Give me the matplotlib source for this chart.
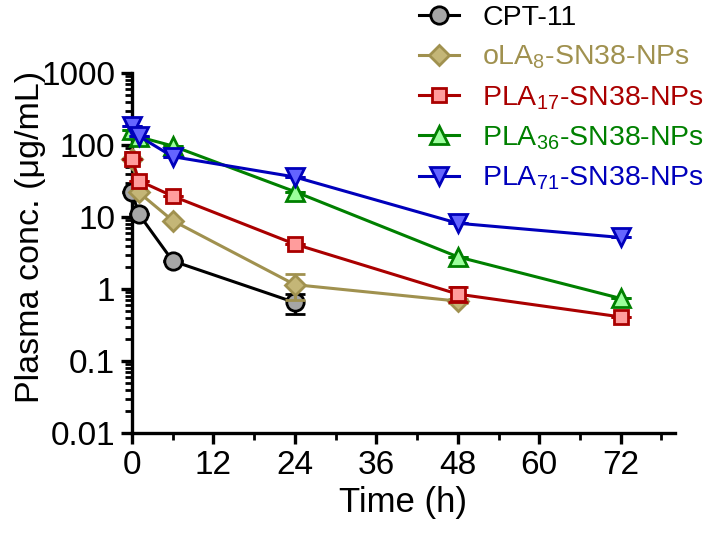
import matplotlib
matplotlib.use("Agg")
import matplotlib.pyplot as plt
from matplotlib.ticker import LogLocator, FixedLocator, NullFormatter

plt.rcParams['font.family'] = ['Liberation Sans', 'DejaVu Sans']
plt.rcParams['mathtext.fontset'] = 'custom'
plt.rcParams['mathtext.rm'] = 'Liberation Sans'
plt.rcParams['mathtext.it'] = 'Liberation Sans'

# data
t_cpt = [0, 1, 6, 24]
y_cpt = [22, 11, 2.45, 0.65]
e_cpt = [0, 0, 0, 0.2]

t_ola8 = [0, 1, 6, 24, 48]
y_ola8 = [65, 22, 8.9, 1.15, 0.68]
e_ola8 = [0, 0, 0, 0.45, 0.05]

t_pla17 = [0, 1, 6, 24, 48, 72]
y_pla17 = [65, 32, 19.5, 4.2, 0.85, 0.41]
e_pla17 = [0, 0, 0, 0, 0.2, 0]

t_pla36 = [0, 1, 6, 24, 48, 72]
y_pla36 = [160, 130, 97, 22.5, 2.8, 0.74]
e_pla36 = [0, 0, 0, 0, 0, 0]

t_pla71 = [0, 1, 6, 24, 48, 72]
y_pla71 = [184, 133, 69, 36, 8.2, 5.2]
e_pla71 = [0, 0, 0, 0, 0, 0]

labels = ["CPT-11", r"oLA$_{8}$-SN38-NPs", r"PLA$_{17}$-SN38-NPs",
          r"PLA$_{36}$-SN38-NPs", r"PLA$_{71}$-SN38-NPs"]
x_ticks = [0, 12, 24, 36, 48, 60, 72]
x_minor = [6, 18, 30, 42, 54, 66, 78]
y_ticks = [0.01, 0.1, 1, 10, 100, 1000]
y_ticklabels = ["0.01", "0.1", "1", "10", "100", "1000"]

series = [
    (t_cpt, y_cpt, e_cpt, 'o', 12.5, '#000000', '#A6A6A6'),
    (t_ola8, y_ola8, e_ola8, 'D', 10, '#A0914F', '#C4B677'),
    (t_pla17, y_pla17, e_pla17, 's', 10, '#AA0000', '#FF9C9C'),
    (t_pla36, y_pla36, e_pla36, '^', 13.5, '#008000', '#9CFF9C'),
    (t_pla71, y_pla71, e_pla71, 'v', 13.5, '#0000BB', '#6464FF'),
]

fig = plt.figure(figsize=(7.12, 5.41), dpi=100)
ax = fig.add_axes([0.1854, 0.1996, 0.7626, 0.6654])

handles = []
for i, (t, y, e, m, ms, lc, fc) in enumerate(series):
    eb = ax.errorbar(t, y, yerr=e, color=lc, lw=2.2, marker=m, ms=ms,
                     mfc=fc, mec=lc, mew=2.0, capsize=7, capthick=2.2,
                     elinewidth=2.2, zorder=3 + i, clip_on=False)
    for art in eb.get_children():
        art.set_clip_on(False)
    handles.append(eb[0])

ax.set_yscale('log')
ax.set_xlim(0, 80)
ax.set_ylim(0.01, 1000)

for s in ['top', 'right']:
    ax.spines[s].set_visible(False)
for s in ['left', 'bottom']:
    ax.spines[s].set_linewidth(2.4)

ax.yaxis.set_major_locator(FixedLocator(y_ticks))
ax.set_yticklabels(y_ticklabels)
ax.yaxis.set_minor_locator(LogLocator(base=10, subs=[2, 3, 4, 5, 6, 7, 8, 9], numticks=20))
ax.yaxis.set_minor_formatter(NullFormatter())
ax.set_xticks(x_ticks)
ax.set_xticks(x_minor, minor=True)

ax.tick_params(axis='both', which='major', length=8, width=2.4, labelsize=24, direction='out', pad=4)
ax.tick_params(axis='both', which='minor', length=5, width=2.0, direction='out')

ax.set_xlabel("Time (h)", fontsize=25, labelpad=4)
ax.set_ylabel("Plasma conc. (\u03bcg/mL)", fontsize=24.5)
ax.yaxis.set_label_coords(-0.158, 0.544)

leg = fig.legend(handles, labels, loc='upper left', bbox_to_anchor=(0.572, 1.012),
                 frameon=False, fontsize=20.5, handlelength=1.4, handletextpad=0.84,
                 labelspacing=0.45, borderaxespad=0)
for txt, (_, _, _, _, _, lc, _) in zip(leg.get_texts(), series):
    txt.set_color(lc)

fig.savefig("out.png", dpi=100)
